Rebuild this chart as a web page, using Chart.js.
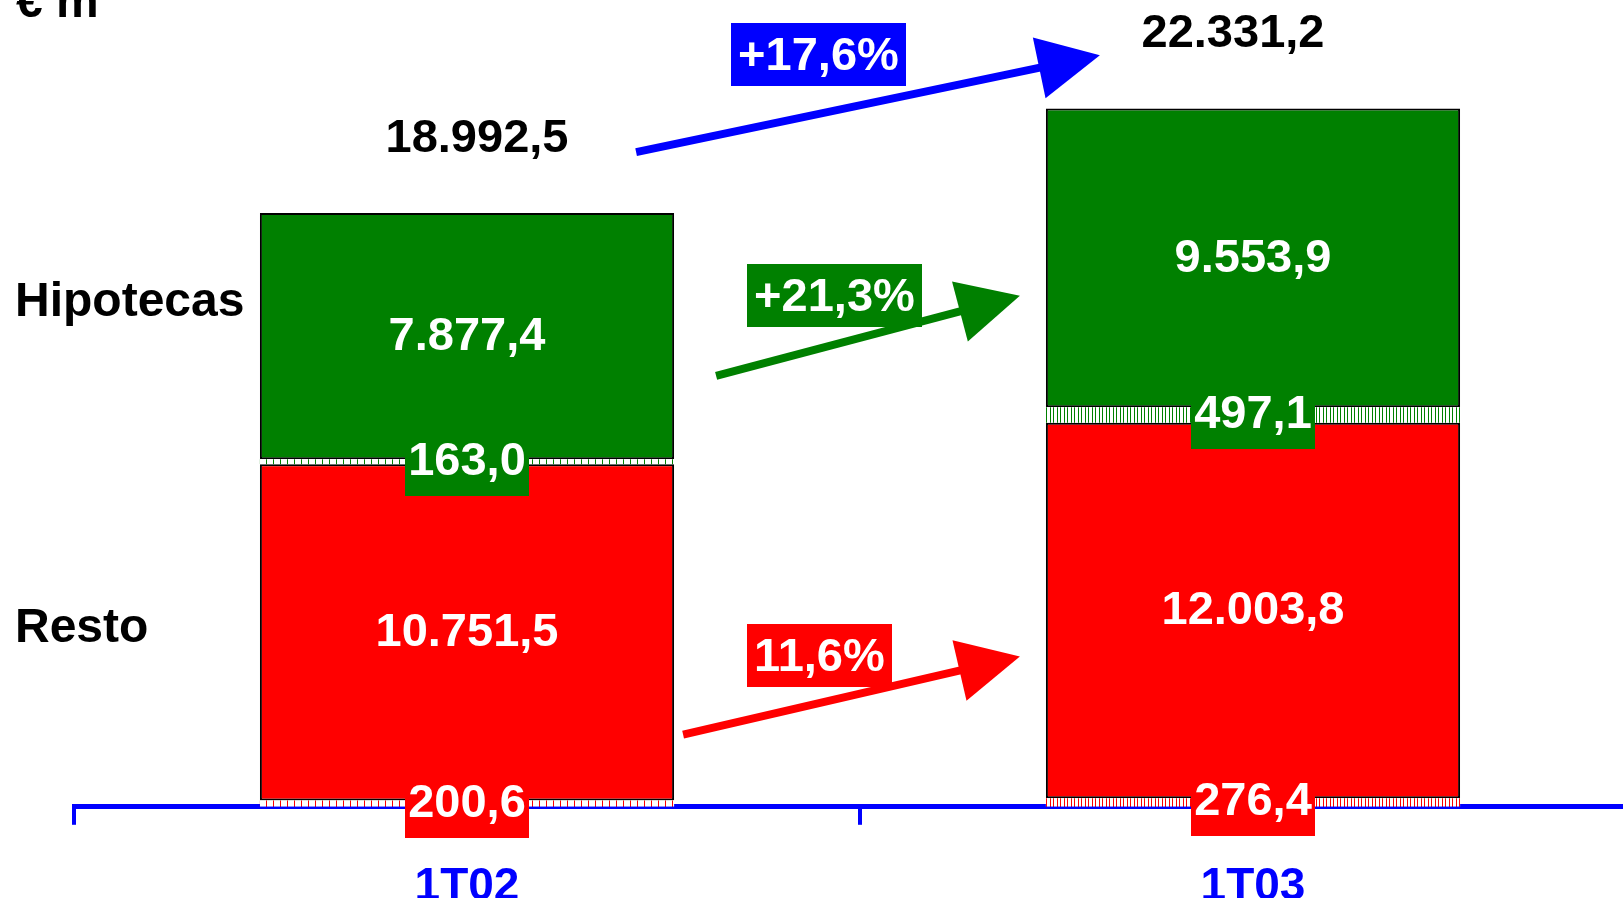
<!DOCTYPE html>
<html>
<head>
<meta charset="utf-8">
<title>Inversión crediticia</title>
<script src="https://cdn.jsdelivr.net/npm/chart.js@4.4.1/dist/chart.umd.min.js"></script>
<style>
    html, body { margin: 0; padding: 0; background: #ffffff; overflow: hidden; }
    #wrap { width: 1623px; height: 898px; overflow: hidden; }
    canvas { display: block; }
</style>
</head>
<body>
<div id="wrap"><canvas id="creditChart" width="1660" height="952"></canvas></div>
<script>
// Data (€ m)
const quarters = ['1T02', '1T03'];
const restoOther = [200.6, 276.4];
const resto = [10751.5, 12003.8];
const hipotecasOther = [163.0, 497.1];
const hipotecas = [7877.4, 9553.9];
const growthLabels = ['+17,6%', '+21,3%', '11,6%'];
const sideLabels = ['Hipotecas', 'Resto'];
const unitLabel = '€ m';

const GREEN = '#008000';
const RED = '#ff0000';
const BLUE = '#0000ff';
const FONT = "'Liberation Sans', Arial, sans-serif";
const TEXT_FONT = 'bold 47px ' + FONT;

// Spanish number format: 18992.5 -> 18.992,5
function fmt(v) {
    const parts = v.toFixed(1).split('.');
    return parts[0].replace(/\B(?=(\d{3})+(?!\d))/g, '.') + ',' + parts[1];
}

// vertical hatch used for the small segments
function stripes(ctx, color, lines) {
    const tile = document.createElement('canvas');
    tile.width = 7;
    tile.height = 7;
    const g = tile.getContext('2d');
    g.fillStyle = '#ffffff';
    g.fillRect(0, 0, 7, 7);
    g.fillStyle = color;
    lines.forEach(x => g.fillRect(x, 0, 1, 7));
    return ctx.createPattern(tile, 'repeat');
}

function boxedText(ctx, text, cx, cy, fill) {
    const w = ctx.measureText(text).width;
    ctx.fillStyle = fill;
    ctx.fillRect(Math.round(cx - w / 2 - 3), Math.round(cy - 22), Math.round(w + 6), 56);
    ctx.fillStyle = '#ffffff';
    ctx.fillText(text, cx, cy);
}

function arrow(ctx, x0, y0, x1, y1, color) {
    const ang = Math.atan2(y1 - y0, x1 - x0);
    const headLen = 62, headHalf = 31;
    const bx = x1 - headLen * Math.cos(ang), by = y1 - headLen * Math.sin(ang);
    ctx.strokeStyle = color;
    ctx.fillStyle = color;
    ctx.lineWidth = 8;
    ctx.beginPath();
    ctx.moveTo(x0, y0);
    ctx.lineTo(bx + 2 * Math.cos(ang), by + 2 * Math.sin(ang));
    ctx.stroke();
    ctx.beginPath();
    ctx.moveTo(x1, y1);
    ctx.lineTo(bx + headHalf * Math.sin(ang), by - headHalf * Math.cos(ang));
    ctx.lineTo(bx - headHalf * Math.sin(ang), by + headHalf * Math.cos(ang));
    ctx.closePath();
    ctx.fill();
}

// labels, totals, side captions and growth arrows
const annotations = {
    id: 'annotations',
    afterDatasetsDraw(chart) {
        const ctx = chart.ctx;
        const y = chart.scales.y;
        const metas = [0, 1, 2, 3].map(i => chart.getDatasetMeta(i));
        const bar1 = metas[3].data[0], bar2 = metas[3].data[1];
        const r1 = bar1.x + bar1.width / 2, l2 = bar2.x - bar2.width / 2;

        ctx.save();
        ctx.font = TEXT_FONT;
        ctx.textAlign = 'center';
        ctx.textBaseline = 'middle';

        // growth arrows (drawn under the percentage boxes)
        const arrows = [
            { x0: r1 - 38, v0: 20938, x1: l2 + 54, v1: 24037, color: BLUE, boxX: r1 + 57 },
            { x0: r1 + 42, v0: 13781, x1: l2 - 26, v1: 16345, color: GREEN, boxX: r1 + 73 },
            { x0: r1 + 9, v0: 2308, x1: l2 - 26, v1: 4807, color: RED, boxX: r1 + 73 }
        ];
        arrows.forEach((a, i) => {
            const ty = y.getPixelForValue(a.v1);
            arrow(ctx, a.x0, y.getPixelForValue(a.v0), a.x1, ty, a.color);
            const w = ctx.measureText(growthLabels[i]).width + 14;
            const top = ty - 32;
            ctx.fillStyle = a.color;
            ctx.fillRect(Math.round(a.boxX), Math.round(top), Math.round(w), 63);
            ctx.fillStyle = '#ffffff';
            ctx.fillText(growthLabels[i], a.boxX + w / 2, top + 34);
        });

        // segment values
        quarters.forEach((q, j) => {
            [1, 3].forEach(i => {
                const el = metas[i].data[j];
                ctx.fillStyle = '#ffffff';
                ctx.fillText(fmt(chart.data.datasets[i].data[j]), el.x, (el.y + el.base) / 2 + 1);
            });
            [[0, RED], [2, GREEN]].forEach(([i, c]) => {
                const el = metas[i].data[j];
                boxedText(ctx, fmt(chart.data.datasets[i].data[j]), el.x, (el.y + el.base) / 2, c);
            });
            // totals
            const total = chart.data.datasets.reduce((s, d) => s + d.data[j], 0);
            const top = metas[3].data[j];
            ctx.fillStyle = '#000000';
            ctx.fillText(fmt(total), top.x + (j === 0 ? 10 : -20), top.y - 74);
        });

        // side captions
        ctx.textAlign = 'left';
        ctx.fillStyle = '#000000';
        ctx.font = 'bold 48px ' + FONT;
        ctx.fillText(sideLabels[0], 15, 303);
        ctx.fillText(sideLabels[1], 15, 629);
        ctx.textBaseline = 'alphabetic';
        ctx.fillText(unitLabel, 16, 17);
        ctx.restore();
    }
};

const canvas = document.getElementById('creditChart');
const ctx = canvas.getContext('2d');
const redHatch = [stripes(ctx, RED, [0]), stripes(ctx, RED, [0, 3])];
const greenHatch = [stripes(ctx, GREEN, [0]), stripes(ctx, GREEN, [0, 3])];

new Chart(ctx, {
    type: 'bar',
    data: {
        labels: quarters,
        datasets: [
            { label: 'Resto (otros)', data: restoOther, backgroundColor: redHatch, borderWidth: 0 },
            { label: 'Resto', data: resto, backgroundColor: RED, borderColor: '#000000', borderWidth: 2, borderSkipped: false },
            { label: 'Hipotecas (otros)', data: hipotecasOther, backgroundColor: greenHatch, borderWidth: 0 },
            { label: 'Hipotecas', data: hipotecas, backgroundColor: GREEN, borderColor: '#000000', borderWidth: 2, borderSkipped: false }
        ]
    },
    options: {
        responsive: false,
        animation: false,
        events: [],
        categoryPercentage: 1,
        barPercentage: 0.527,
        layout: { padding: { left: 74, right: 14, top: 0, bottom: 2 } },
        plugins: {
            legend: { display: false },
            tooltip: { enabled: false }
        },
        scales: {
            x: {
                stacked: true,
                grid: { display: true, drawOnChartArea: false, drawTicks: true, tickLength: 18, color: BLUE, lineWidth: 4, offset: true },
                border: { display: true, color: BLUE, width: 5 },
                ticks: { color: BLUE, padding: 35, maxRotation: 0, font: { family: FONT, size: 46, weight: 'bold', lineHeight: 1.2 } }
            },
            y: { stacked: true, display: false, min: 0, max: 25800 }
        }
    },
    plugins: [annotations]
});
</script>
</body>
</html>
